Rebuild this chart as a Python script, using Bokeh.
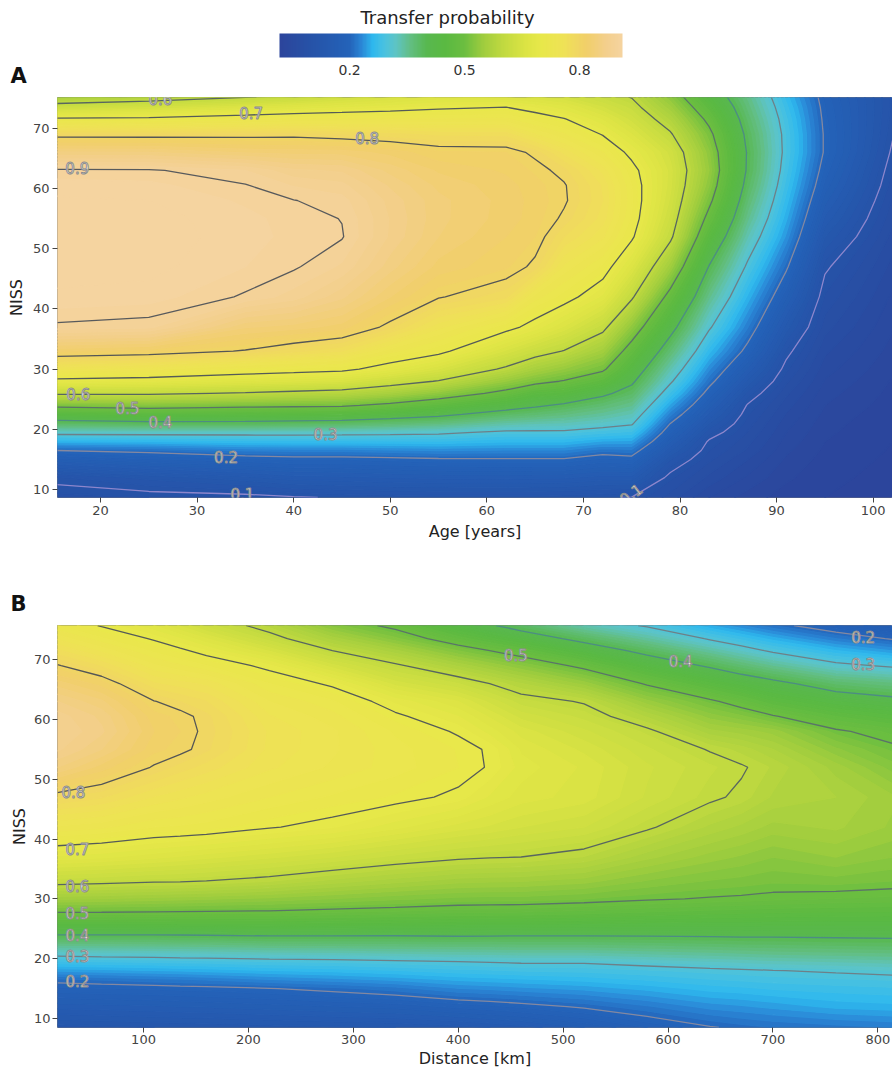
import numpy as np
from bokeh.plotting import figure
from bokeh.models import LinearColorMapper, ColorBar, FixedTicker, Label, Range1d
from bokeh.layouts import column
from bokeh.embed import file_html
from bokeh.resources import INLINE
from bokeh.core.properties import value

FONT = "DejaVu Sans"

# ------------------------------------------------------------------ data
# Panel A: transfer probability on an Age x NISS grid (one list per age, NISS ascending)
age_A = [15.5, 25, 35, 40, 45, 50, 55, 62, 65, 68, 72, 75, 79, 83, 87, 91, 95, 102]
niss_A = [8.7, 12, 15, 16.5, 18, 19.5, 21, 22.5, 24, 26, 28, 30, 33, 37, 42, 47, 52, 55, 58, 60.5, 63, 66, 69, 71.5, 73.5, 75.2]
prob_A = [
    [0.085, 0.108, 0.165, 0.2, 0.256, 0.313, 0.378, 0.445, 0.514, 0.608, 0.688, 0.749, 0.821, 0.897, 0.918, 0.925, 0.928, 0.927, 0.922, 0.915, 0.903, 0.851, 0.79, 0.707, 0.622, 0.56],
    [0.09, 0.123, 0.177, 0.207, 0.259, 0.314, 0.386, 0.455, 0.522, 0.607, 0.681, 0.742, 0.814, 0.893, 0.915, 0.924, 0.927, 0.925, 0.92, 0.913, 0.902, 0.85, 0.79, 0.71, 0.637, 0.575],
    [0.093, 0.136, 0.186, 0.221, 0.265, 0.314, 0.386, 0.45, 0.513, 0.596, 0.666, 0.724, 0.798, 0.841, 0.898, 0.91, 0.914, 0.913, 0.908, 0.901, 0.89, 0.838, 0.792, 0.722, 0.657, 0.597],
    [0.098, 0.145, 0.19, 0.223, 0.266, 0.314, 0.382, 0.447, 0.51, 0.588, 0.659, 0.717, 0.783, 0.835, 0.885, 0.902, 0.907, 0.906, 0.9005, 0.889, 0.872, 0.836, 0.793, 0.728, 0.668, 0.61],
    [0.102, 0.147, 0.19, 0.223, 0.266, 0.313, 0.378, 0.443, 0.507, 0.581, 0.65, 0.71, 0.77, 0.825, 0.862, 0.888, 0.9012, 0.8995, 0.894, 0.883, 0.868, 0.835, 0.788, 0.729, 0.677, 0.63],
    [0.104, 0.15, 0.193, 0.227, 0.267, 0.31, 0.369, 0.428, 0.488, 0.559, 0.624, 0.682, 0.734, 0.793, 0.83, 0.854, 0.868, 0.869, 0.866, 0.858, 0.846, 0.826, 0.782, 0.73, 0.685, 0.645],
    [0.105, 0.152, 0.196, 0.23, 0.268, 0.307, 0.359, 0.411, 0.464, 0.532, 0.597, 0.649, 0.711, 0.753, 0.802, 0.826, 0.84, 0.843, 0.843, 0.837, 0.828, 0.812, 0.776, 0.731, 0.694, 0.66],
    [0.105, 0.153, 0.197, 0.228, 0.261, 0.293, 0.335, 0.379, 0.424, 0.485, 0.539, 0.592, 0.647, 0.712, 0.782, 0.812, 0.82, 0.825, 0.826, 0.824, 0.818, 0.81, 0.775, 0.732, 0.7, 0.655],
    [0.105, 0.152, 0.197, 0.228, 0.261, 0.293, 0.33, 0.37, 0.407, 0.453, 0.515, 0.56, 0.62, 0.687, 0.735, 0.795, 0.81, 0.815, 0.816, 0.814, 0.808, 0.795, 0.75, 0.715, 0.688, 0.648],
    [0.104, 0.151, 0.197, 0.228, 0.261, 0.293, 0.327, 0.36, 0.393, 0.445, 0.497, 0.538, 0.598, 0.658, 0.714, 0.747, 0.78, 0.796, 0.803, 0.802, 0.793, 0.766, 0.731, 0.702, 0.672, 0.64],
    [0.102, 0.145, 0.186, 0.212, 0.248, 0.283, 0.315, 0.343, 0.37, 0.41, 0.462, 0.508, 0.554, 0.613, 0.676, 0.717, 0.752, 0.765, 0.77, 0.768, 0.756, 0.73, 0.698, 0.668, 0.64, 0.615],
    [0.099, 0.145, 0.19, 0.216, 0.246, 0.276, 0.305, 0.327, 0.35, 0.38, 0.409, 0.436, 0.476, 0.533, 0.607, 0.661, 0.706, 0.718, 0.722, 0.72, 0.712, 0.69, 0.66, 0.635, 0.615, 0.598],
    [0.075, 0.092, 0.12, 0.14, 0.16, 0.18, 0.2, 0.223, 0.246, 0.277, 0.306, 0.331, 0.369, 0.419, 0.481, 0.55, 0.61, 0.626, 0.637, 0.643, 0.645, 0.635, 0.605, 0.577, 0.552, 0.53],
    [0.05, 0.067, 0.082, 0.09, 0.097, 0.112, 0.129, 0.147, 0.165, 0.188, 0.211, 0.232, 0.264, 0.306, 0.352, 0.398, 0.452, 0.484, 0.512, 0.53, 0.54, 0.532, 0.513, 0.488, 0.463, 0.44],
    [0.035, 0.048, 0.06, 0.068, 0.073, 0.079, 0.085, 0.091, 0.098, 0.115, 0.136, 0.157, 0.189, 0.221, 0.257, 0.293, 0.33, 0.352, 0.37, 0.384, 0.394, 0.396, 0.388, 0.376, 0.365, 0.355],
    [0.025, 0.032, 0.038, 0.042, 0.046, 0.05, 0.054, 0.059, 0.064, 0.072, 0.082, 0.092, 0.107, 0.135, 0.17, 0.205, 0.237, 0.252, 0.265, 0.275, 0.283, 0.289, 0.288, 0.282, 0.274, 0.265],
    [0.02, 0.023, 0.026, 0.028, 0.03, 0.032, 0.034, 0.037, 0.04, 0.044, 0.049, 0.054, 0.062, 0.074, 0.088, 0.104, 0.13, 0.147, 0.163, 0.176, 0.186, 0.196, 0.196, 0.193, 0.19, 0.186],
    [0.015, 0.016, 0.018, 0.019, 0.02, 0.021, 0.022, 0.023, 0.025, 0.027, 0.029, 0.032, 0.036, 0.041, 0.048, 0.056, 0.066, 0.072, 0.078, 0.084, 0.089, 0.096, 0.102, 0.105, 0.107, 0.108],
]

# Panel B: transfer probability on a Distance x NISS grid (one list per distance)
dist_B = [18, 60, 110, 135, 160, 220, 280, 340, 400, 430, 460, 520, 580, 640, 670, 700, 760, 814]
niss_B = [8.5, 12, 15, 16.5, 18, 19.5, 21, 22.5, 24, 26, 28, 30, 33, 37, 42, 47, 52, 55, 58, 60.5, 63, 66, 69, 71.5, 73.5, 75.7]
prob_B = [
    [0.115, 0.154, 0.187, 0.207, 0.242, 0.277, 0.314, 0.357, 0.4, 0.454, 0.507, 0.551, 0.613, 0.677, 0.738, 0.791, 0.85, 0.872, 0.88, 0.875, 0.86, 0.835, 0.802, 0.772, 0.748, 0.72],
    [0.117, 0.156, 0.189, 0.211, 0.245, 0.28, 0.317, 0.358, 0.4, 0.454, 0.506, 0.549, 0.609, 0.672, 0.732, 0.781, 0.825, 0.85, 0.862, 0.857, 0.842, 0.815, 0.778, 0.747, 0.722, 0.698],
    [0.12, 0.158, 0.191, 0.216, 0.249, 0.282, 0.319, 0.359, 0.4, 0.453, 0.504, 0.545, 0.604, 0.663, 0.72, 0.759, 0.798, 0.813, 0.82, 0.814, 0.801, 0.771, 0.742, 0.717, 0.697, 0.67],
    [0.121, 0.16, 0.193, 0.218, 0.251, 0.284, 0.321, 0.361, 0.401, 0.452, 0.503, 0.543, 0.603, 0.658, 0.718, 0.752, 0.785, 0.806, 0.81, 0.807, 0.79, 0.764, 0.731, 0.705, 0.68, 0.648],
    [0.122, 0.161, 0.194, 0.221, 0.253, 0.285, 0.322, 0.362, 0.402, 0.452, 0.502, 0.541, 0.6, 0.653, 0.715, 0.745, 0.775, 0.792, 0.795, 0.793, 0.78, 0.757, 0.72, 0.69, 0.66, 0.625],
    [0.125, 0.165, 0.199, 0.229, 0.259, 0.29, 0.326, 0.366, 0.405, 0.452, 0.5, 0.536, 0.591, 0.642, 0.702, 0.73, 0.752, 0.757, 0.758, 0.751, 0.74, 0.72, 0.692, 0.648, 0.614, 0.585],
    [0.128, 0.169, 0.206, 0.235, 0.263, 0.292, 0.328, 0.367, 0.405, 0.45, 0.495, 0.529, 0.576, 0.63, 0.691, 0.718, 0.738, 0.742, 0.742, 0.734, 0.722, 0.695, 0.643, 0.6, 0.565, 0.525],
    [0.13, 0.173, 0.215, 0.242, 0.269, 0.296, 0.332, 0.368, 0.404, 0.448, 0.491, 0.522, 0.564, 0.616, 0.673, 0.708, 0.725, 0.724, 0.718, 0.705, 0.687, 0.645, 0.606, 0.562, 0.523, 0.49],
    [0.135, 0.183, 0.229, 0.252, 0.276, 0.3, 0.335, 0.37, 0.406, 0.445, 0.486, 0.516, 0.554, 0.605, 0.655, 0.695, 0.71, 0.709, 0.697, 0.68, 0.66, 0.62, 0.567, 0.519, 0.478, 0.43],
    [0.14, 0.187, 0.232, 0.255, 0.278, 0.302, 0.336, 0.37, 0.405, 0.444, 0.485, 0.515, 0.552, 0.602, 0.648, 0.678, 0.698, 0.697, 0.675, 0.658, 0.637, 0.6, 0.548, 0.5, 0.454, 0.405],
    [0.145, 0.192, 0.236, 0.258, 0.281, 0.304, 0.338, 0.371, 0.404, 0.444, 0.484, 0.515, 0.551, 0.6, 0.64, 0.665, 0.675, 0.668, 0.655, 0.636, 0.614, 0.58, 0.529, 0.48, 0.43, 0.38],
    [0.16, 0.203, 0.243, 0.263, 0.283, 0.304, 0.338, 0.371, 0.404, 0.442, 0.479, 0.51, 0.544, 0.589, 0.63, 0.655, 0.658, 0.647, 0.632, 0.616, 0.597, 0.545, 0.49, 0.431, 0.384, 0.33],
    [0.18, 0.218, 0.253, 0.271, 0.288, 0.311, 0.343, 0.374, 0.405, 0.439, 0.473, 0.503, 0.529, 0.563, 0.604, 0.628, 0.632, 0.622, 0.607, 0.578, 0.543, 0.496, 0.436, 0.385, 0.34, 0.295],
    [0.198, 0.234, 0.264, 0.279, 0.294, 0.318, 0.348, 0.378, 0.406, 0.437, 0.468, 0.498, 0.519, 0.545, 0.577, 0.605, 0.612, 0.598, 0.563, 0.535, 0.506, 0.452, 0.393, 0.339, 0.296, 0.25],
    [0.205, 0.238, 0.267, 0.282, 0.296, 0.322, 0.351, 0.38, 0.407, 0.437, 0.466, 0.496, 0.516, 0.538, 0.567, 0.595, 0.603, 0.585, 0.555, 0.522, 0.485, 0.432, 0.37, 0.316, 0.275, 0.23],
    [0.21, 0.243, 0.271, 0.285, 0.299, 0.326, 0.354, 0.381, 0.407, 0.436, 0.464, 0.493, 0.512, 0.53, 0.556, 0.578, 0.588, 0.57, 0.545, 0.503, 0.46, 0.414, 0.347, 0.294, 0.254, 0.21],
    [0.215, 0.253, 0.275, 0.288, 0.304, 0.33, 0.357, 0.384, 0.408, 0.435, 0.462, 0.489, 0.515, 0.54, 0.562, 0.57, 0.555, 0.532, 0.505, 0.47, 0.43, 0.375, 0.31, 0.26, 0.22, 0.18],
    [0.22, 0.256, 0.278, 0.291, 0.309, 0.334, 0.36, 0.386, 0.409, 0.435, 0.461, 0.487, 0.51, 0.53, 0.548, 0.552, 0.525, 0.507, 0.486, 0.452, 0.414, 0.36, 0.294, 0.239, 0.197, 0.16],
]

contour_levels = [0.1, 0.2, 0.3, 0.4, 0.5, 0.6, 0.7, 0.8, 0.9]
cbar_ticks = [0.2, 0.5, 0.8]
cbar_low, cbar_high = 0.017, 0.912
age_ticks = [20, 30, 40, 50, 60, 70, 80, 90, 100]
dist_ticks = [100, 200, 300, 400, 500, 600, 700, 800]
niss_ticks = [10, 20, 30, 40, 50, 60, 70]

# contour labels
labA_x = [26.2, 35.6, 47.6, 17.6, 17.7, 22.8, 26.2, 43.3, 33.0, 34.7, 74.9]
labA_y = [74.8, 72.5, 68.3, 63.4, 25.8, 23.5, 21.2, 19.2, 15.5, 9.3, 9.3]
labA_t = ["0.6", "0.7", "0.8", "0.9", "0.6", "0.5", "0.4", "0.3", "0.2", "0.1", "0.1"]
labA_deg = [0, 0, 0, 0, 0, 0, 0, 0, 0, 0, 37]

labB_x = [33.2, 37, 37, 37, 37, 37, 37, 455, 612, 786, 786]
labB_y = [47.8, 38.4, 32.2, 27.7, 24.0, 20.5, 16.2, 70.7, 69.8, 73.7, 69.3]
labB_t = ["0.8", "0.7", "0.6", "0.5", "0.4", "0.3", "0.2", "0.5", "0.4", "0.2", "0.3"]
labB_deg = [0, 0, 0, 0, 0, 0, 0, 0, 0, 0, 0]

# ------------------------------------------------------------------ style
anchor_v = [0.0, 0.1, 0.18, 0.2, 0.23, 0.26, 0.29, 0.32, 0.36, 0.4, 0.45, 0.5, 0.55, 0.6, 0.66,
            0.7, 0.76, 0.82, 0.87, 0.93]
anchor_c = ["#2d4299", "#2653a8", "#2460b6", "#2464ba", "#2a86d6", "#2eb8ee", "#4ac2e0", "#5ec4c4",
            "#62be80", "#58b850", "#5ab942", "#6cbe40", "#a0cd3e", "#c0d940", "#dce444", "#e8e84a",
            "#efe256", "#f1cf6a", "#f3cf8c", "#f6d6a8"]
_rgb = np.array([[int(c[i:i + 2], 16) for i in (1, 3, 5)] for c in anchor_c], float)


def color_at(v):
    v = min(max(v, cbar_low), cbar_high)
    r, g, b = (np.interp(v, anchor_v, _rgb[:, k]) for k in range(3))
    return "#%02x%02x%02x" % (int(round(r)), int(round(g)), int(round(b)))


palette = [color_at(v) for v in np.linspace(cbar_low, cbar_high, 256)]
fill_levels = [round(0.01 * i, 3) for i in range(0, 96)]
band_colors = [color_at(0.5 * (a + b)) for a, b in zip(fill_levels[:-1], fill_levels[1:])]
line_colors = ["#8d86cc", "#8488a0", "#6d8088", "#4d8c84", "#5a7468",
               "#586660", "#555b58", "#545656", "#585a5c"]
W = 892


def style_axes(p, tick_out, lab_standoff, axlab_standoff):
    for ax in (p.xaxis[0], p.yaxis[0]):
        ax.axis_label_text_font = FONT
        ax.axis_label_text_font_size = "16px"
        ax.axis_label_text_font_style = "normal"
        ax.axis_label_text_color = "#222222"
        ax.major_label_text_font = FONT
        ax.major_label_text_font_size = "13px"
        ax.major_label_text_color = "#444444"
        ax.major_tick_line_color = "#444444"
        ax.major_tick_out = tick_out
        ax.major_tick_in = 0
        ax.minor_tick_line_color = None
        ax.axis_line_color = None
        ax.major_label_standoff = lab_standoff
        ax.axis_label_standoff = axlab_standoff


def draw_fill(p, xs, ys, z):
    try:
        from bokeh.plotting.contour import contour_data
        cd = contour_data(xs, ys, z, fill_levels, want_fill=True, want_line=False)
        fd = cd.fill_data
        cols = [color_at(0.5 * (lo + hi)) for lo, hi in zip(fd.lower_levels, fd.upper_levels)]
        p.multi_polygons(xs=list(fd.xs), ys=list(fd.ys), fill_color=cols, line_color=cols,
                         line_width=1.3, line_join="round")
    except Exception:
        p.contour(xs, ys, z, levels=fill_levels, fill_color=band_colors)


def make_panel(xs, ys, cols, xr, yr, xticks, xlabel, height, top, bottom,
               lx, ly, lt, ldeg, tick_out, lab_standoff, axlab_standoff):
    p = figure(width=W, height=height, x_range=Range1d(*xr), y_range=Range1d(*yr),
               toolbar_location=None, output_backend="svg",
               min_border_left=57, min_border_right=0,
               min_border_top=top, min_border_bottom=bottom)
    z = np.array(cols, dtype=float).T
    draw_fill(p, xs, ys, z)
    p.contour(xs, ys, z, levels=contour_levels, line_color=line_colors, line_width=1.3)

    kw = dict(x=lx, y=ly, text=lt, angle=[d * np.pi / 180 for d in ldeg],
              text_font=value(FONT), text_font_size="15px", text_color="#ffffff",
              text_align="center", text_baseline="middle")
    try:
        p.text(text_outline_color="#8c8c8c", **kw)
    except Exception:
        kw["text_color"] = "#8a8a8a"
        p.text(**kw)

    p.xaxis.ticker = FixedTicker(ticks=xticks)
    p.yaxis.ticker = FixedTicker(ticks=niss_ticks)
    p.xaxis.axis_label = xlabel
    p.yaxis.axis_label = "NISS"
    style_axes(p, tick_out, lab_standoff, axlab_standoff)
    p.xgrid.visible = False
    p.ygrid.visible = False
    p.outline_line_color = "#7a7a7a"
    p.background_fill_color = "white"
    return p


def text_strip(height):
    s = figure(width=W, height=height, x_range=(0, 1), y_range=(0, 1), toolbar_location=None,
               output_backend="svg", min_border=0, x_axis_location=None, y_axis_location=None)
    s.outline_line_color = None
    s.xgrid.visible = False
    s.ygrid.visible = False
    try:
        s.frame_align = False
    except Exception:
        pass
    return s


def letter(s, txt, y):
    s.add_layout(Label(x=10, y=y, x_units="screen", y_units="screen", text=txt,
                       text_font=FONT, text_font_size="21px", text_font_style="bold",
                       text_color="#111111", text_align="left", text_baseline="middle"))


# ------------------------------------------------------------------ colour bar strip
cb = text_strip(88)
mapper = LinearColorMapper(palette=palette, low=cbar_low, high=cbar_high)
bar = ColorBar(color_mapper=mapper, orientation="horizontal", location=(279, 11),
               width=343, height=24, padding=0, label_standoff=7,
               ticker=FixedTicker(ticks=cbar_ticks),
               major_label_text_font=FONT, major_label_text_font_size="14px",
               major_label_text_color="#333333", major_tick_line_color=None,
               minor_tick_line_color=None, bar_line_color=None, border_line_color=None,
               background_fill_color=None)
cb.add_layout(bar, "center")
cb.add_layout(Label(x=447, y=71, x_units="screen", y_units="screen", text="Transfer probability",
                    text_font=FONT, text_font_size="18px", text_color="#222222",
                    text_align="center", text_baseline="middle"))
letter(cb, "A", 13)

pA = make_panel(age_A, niss_A, prob_A, (15.55, 102.0), (8.7, 75.1), age_ticks, "Age [years]",
                457, 9, 48, labA_x, labA_y, labA_t, labA_deg, 5, 3, 4)

bs = text_strip(75)
letter(bs, "B", 17)

pB = make_panel(dist_B, niss_B, prob_B, (18, 814), (8.5, 75.7), dist_ticks, "Distance [km]",
                451, 5, 44, labB_x, labB_y, labB_t, labB_deg, 5, 2, 2)

layout = column(cb, pA, bs, pB, spacing=0)
open("out.html", "w").write(file_html(layout, INLINE, title="Transfer probability"))
